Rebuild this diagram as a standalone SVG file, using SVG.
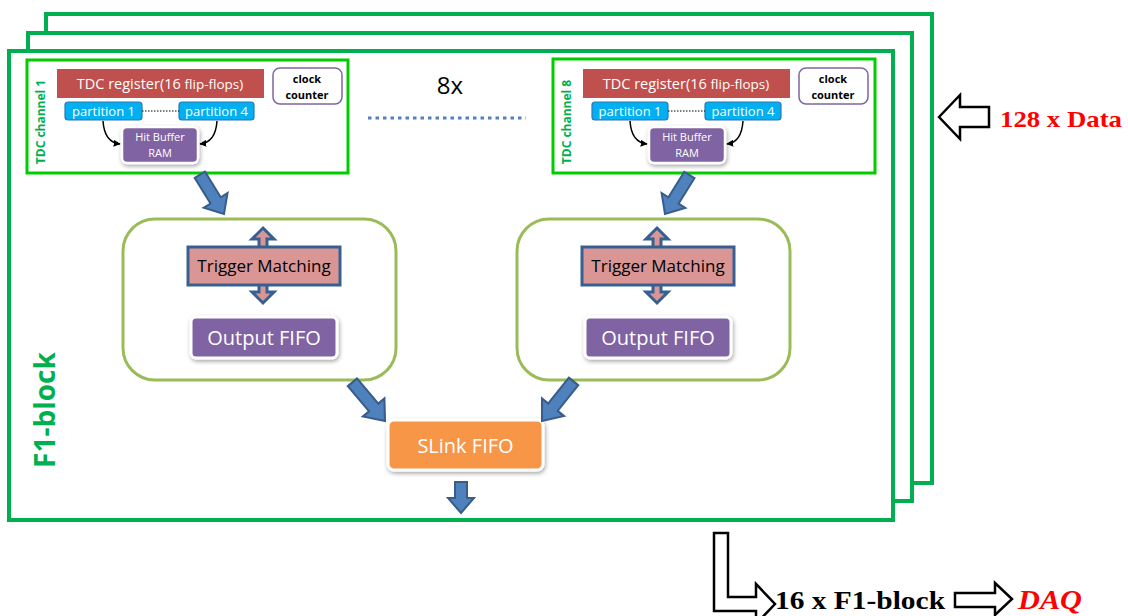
<svg xmlns="http://www.w3.org/2000/svg" width="1128" height="616" viewBox="0 0 1128 616">
<defs>
<style>
.frame{fill:#fff;stroke:#00B050;stroke-width:4}
.tdc{fill:#fff;stroke:#00CC00;stroke-width:3}
.reg{fill:#C0504D}
.regt{font-family:"Open Sans","Noto Sans",sans-serif;font-size:14.5px;fill:#fff}
.clk{fill:#fff;stroke:#8064A2;stroke-width:1.5}
.clkt{font-family:"Open Sans","Noto Sans",sans-serif;font-size:11px;font-weight:bold;fill:#000}
.part{fill:#00B0F0;stroke:#2E75B6;stroke-width:1.2}
.partt{font-family:"Open Sans","Noto Sans",sans-serif;font-size:13px;fill:#fff}
.hb{fill:#8064A2;stroke:#fff;stroke-width:2.5}
.hbt{font-family:"Open Sans","Noto Sans",sans-serif;font-size:11px;fill:#fff}
.vtxt{font-family:"Open Sans","Noto Sans",sans-serif;font-weight:bold;fill:#00B050}
.trig{fill:#fff;stroke:#9BBB59;stroke-width:3}
.tm{fill:#D99694;stroke:#376092;stroke-width:3}
.tmt{font-family:"Open Sans","Noto Sans",sans-serif;font-size:17px;fill:#000}
.ofifo{fill:#8064A2;stroke:#fff;stroke-width:3}
.bigt{font-family:"Open Sans","Noto Sans",sans-serif;font-size:20px;fill:#fff}
.slink{fill:#F79646;stroke:#fff;stroke-width:3}
.blk{fill:#4F81BD;stroke:#385D8A;stroke-width:2;stroke-linejoin:miter}
.dbl{fill:#D99694;stroke:#376092;stroke-width:3}
.curve{fill:none;stroke:#000;stroke-width:1.5}
.hollow{fill:#fff;stroke:#000;stroke-width:2.5;stroke-linejoin:miter}
.serif{font-family:"Liberation Serif","Times New Roman",serif;font-weight:bold}
</style>
<filter id="sh" x="-20%" y="-20%" width="140%" height="150%">
<feDropShadow dx="1" dy="2" stdDeviation="2" flood-color="#000" flood-opacity="0.35"/>
</filter>
<marker id="ah" viewBox="0 0 10 10" refX="9" refY="5" markerWidth="7" markerHeight="7" orient="auto" markerUnits="userSpaceOnUse">
<path d="M0,0 L10,5 L0,10 Z" fill="#000"/>
</marker>
<path id="barrow" d="M-6,-46 L6,-46 L6,-16 L14,-16 L0,0 L-14,-16 L-6,-16 Z"/>
</defs>

<rect width="1128" height="616" fill="#fff"/>

<g id="frame-back"><rect class="frame" x="46" y="14" width="886" height="469"/></g>
<g id="frame-middle"><rect class="frame" x="28" y="33" width="884" height="468"/></g>
<g id="frame-front"><rect class="frame" x="9" y="51" width="884" height="469"/>
<text class="vtxt" font-size="28" transform="translate(55,410) rotate(-90)" text-anchor="middle">F1-block</text>
</g>

<g id="tdc-channel-1">
<rect class="tdc" x="27" y="60" width="321" height="113"/>
<text class="vtxt" font-size="12" transform="translate(45,122) rotate(-90)" text-anchor="middle">TDC channel 1</text>
<rect class="reg" x="57" y="69" width="207" height="29"/>
<text class="regt" x="160" y="89" text-anchor="middle">TDC register(16 <tspan font-size="13.5px">flip-flops)</tspan></text>
<rect class="clk" x="273" y="68" width="69" height="36" rx="7"/>
<text class="clkt" x="307" y="83" text-anchor="middle">clock</text>
<text class="clkt" x="307" y="99" text-anchor="middle">counter</text>
<rect class="part" x="65" y="102" width="77" height="18" rx="3"/>
<text class="partt" x="103.5" y="116" text-anchor="middle">partition 1</text>
<rect class="part" x="179" y="102" width="75" height="18" rx="3"/>
<text class="partt" x="216.5" y="116" text-anchor="middle">partition 4</text>
<rect class="hb" x="122" y="127" width="76" height="36" rx="5" filter="url(#sh)"/>
<text class="hbt" x="160" y="141" text-anchor="middle">Hit Buffer</text>
<text class="hbt" x="160" y="157" text-anchor="middle">RAM</text>
</g>

<g id="tdc-channel-8">
<rect class="tdc" x="553" y="59" width="322" height="114"/>
<text class="vtxt" font-size="12" transform="translate(571,122) rotate(-90)" text-anchor="middle">TDC channel 8</text>
<rect class="reg" x="583" y="69" width="207" height="29"/>
<text class="regt" x="686" y="89" text-anchor="middle">TDC register(16 <tspan font-size="13.5px">flip-flops)</tspan></text>
<rect class="clk" x="799" y="68" width="69" height="36" rx="7"/>
<text class="clkt" x="833" y="83" text-anchor="middle">clock</text>
<text class="clkt" x="833" y="99" text-anchor="middle">counter</text>
<rect class="part" x="592" y="102" width="76" height="18" rx="3"/>
<text class="partt" x="630" y="116" text-anchor="middle">partition 1</text>
<rect class="part" x="705" y="102" width="76" height="18" rx="3"/>
<text class="partt" x="743" y="116" text-anchor="middle">partition 4</text>
<rect class="hb" x="649" y="127" width="76" height="36" rx="5" filter="url(#sh)"/>
<text class="hbt" x="687" y="141" text-anchor="middle">Hit Buffer</text>
<text class="hbt" x="687" y="157" text-anchor="middle">RAM</text>
</g>

<g id="label-8x">
<text x="450" y="94" text-anchor="middle" font-family="Open Sans,Noto Sans,sans-serif" font-size="24" fill="#000">8x</text>
</g>

<g id="trigger-left">
<rect class="trig" x="123" y="219" width="273" height="161" rx="32"/>
<path class="dbl" d="M263,228 L274,239 L267,239 L267,292 L274,292 L263,303 L252,292 L259,292 L259,239 L252,239 Z"/>
<rect class="tm" x="188" y="247" width="152" height="38"/>
<text class="tmt" x="264" y="272" text-anchor="middle">Trigger Matching</text>
<rect class="ofifo" x="191" y="317" width="146" height="41" rx="5" filter="url(#sh)"/>
<text class="bigt" x="264" y="345" text-anchor="middle">Output FIFO</text>
</g>

<g id="trigger-right">
<rect class="trig" x="517" y="219" width="273" height="161" rx="32"/>
<path class="dbl" d="M657,228 L668,239 L661,239 L661,292 L668,292 L657,303 L646,292 L653,292 L653,239 L646,239 Z"/>
<rect class="tm" x="582" y="247" width="152" height="38"/>
<text class="tmt" x="658" y="272" text-anchor="middle">Trigger Matching</text>
<rect class="ofifo" x="585" y="317" width="146" height="41" rx="5" filter="url(#sh)"/>
<text class="bigt" x="658" y="345" text-anchor="middle">Output FIFO</text>
</g>

<g id="slink-fifo">
<rect class="slink" x="388" y="420" width="155" height="50" rx="6" filter="url(#sh)"/>
<text class="bigt" x="465.5" y="453" text-anchor="middle">SLink FIFO</text>
</g>

<g id="label-128">
<text class="serif" x="1000" y="127" font-size="23" fill="#FF0000" textLength="122" lengthAdjust="spacingAndGlyphs">128 x Data</text>
</g>
<g id="label-16">
<text class="serif" x="775" y="609" font-size="26" fill="#000" textLength="170" lengthAdjust="spacingAndGlyphs">16 x F1-block</text>
</g>
<g id="label-daq">
<text class="serif" x="1018" y="609" font-size="27" font-style="italic" fill="#FF0000" textLength="64" lengthAdjust="spacingAndGlyphs">DAQ</text>
</g>

<g id="connectors">
<path class="curve" d="M103,121 C104,136 110,143 120,144" marker-end="url(#ah)"/>
<path class="curve" d="M217,121 C216,136 210,143 200,144" marker-end="url(#ah)"/>
<path class="curve" d="M630,121 C631,136 637,143 647,144" marker-end="url(#ah)"/>
<path class="curve" d="M743,121 C742,136 736,143 727,144" marker-end="url(#ah)"/>
<line x1="142" y1="111" x2="179" y2="111" stroke="#000" stroke-width="1.2" stroke-dasharray="1.5 1.5"/>
<line x1="668" y1="111" x2="705" y2="111" stroke="#000" stroke-width="1.2" stroke-dasharray="1.5 1.5"/>
<line x1="368" y1="118" x2="526" y2="118" stroke="#4F81BD" stroke-width="3" stroke-dasharray="3.5 4"/>
<use href="#barrow" class="blk" transform="translate(224,214) rotate(-31.6)"/>
<use href="#barrow" class="blk" transform="translate(665,214) rotate(32)"/>
<use href="#barrow" class="blk" transform="translate(385,421) rotate(-40) scale(1,1.1)"/>
<use href="#barrow" class="blk" transform="translate(542,421) rotate(38.5) scale(1,1.1)"/>
<path class="blk" d="M455,482 L467,482 L467,498 L474,498 L461,513 L448,498 L455,498 Z"/>
<path class="hollow" d="M939,117 L960,95 L960,107 L989,107 L989,127 L960,127 L960,139 Z"/>
<path class="hollow" d="M714,533 L728,533 L728,597 L756,597 L756,584 L775,604 L756,624 L756,611 L714,611 Z"/>
<path class="hollow" d="M955,593 L995,593 L995,583 L1012,599 L995,615 L995,607 L955,607 Z"/>
</g>
</svg>
